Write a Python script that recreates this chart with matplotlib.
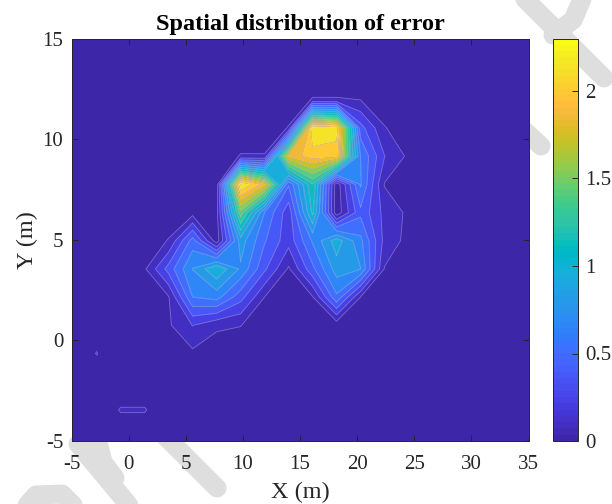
import numpy as np
import matplotlib
matplotlib.use("Agg")
import matplotlib.pyplot as plt
from matplotlib.colors import ListedColormap, Normalize
from matplotlib.cm import ScalarMappable
from matplotlib.lines import Line2D

plt.rcParams['font.family'] = ['Liberation Serif', 'DejaVu Serif']
plt.rcParams['axes.unicode_minus'] = False

x_nodes = [-5.0, -2.8, -0.7, 1.4, 3.5, 5.6, 7.7, 9.8, 11.9, 14.0, 16.1, 18.2, 20.3, 22.4, 24.5, 26.6, 28.7, 30.8, 32.9, 35.0]
y_nodes = [-5.0, -3.45, -2.05, -0.65, 0.75, 2.15, 3.55, 4.95, 6.35, 7.75, 9.15, 10.55, 11.95, 13.35, 15.0]

#            -5  -2.8  -.7  1.4  3.5  5.6  7.7  9.8 11.9  14  16.1 18.2 20.3 22.4 24.5 ...
z_y_m5_00 = [0, 0, 0, 0, 0, 0, 0, 0, 0, 0, 0, 0, 0, 0, 0, 0, 0, 0, 0, 0]
z_y_m3_45 = [0, 0, .11, .11, 0, 0, 0, 0, 0, 0, 0, 0, 0, 0, 0, 0, 0, 0, 0, 0]
z_y_m2_05 = [0, .03, 0, 0, 0, 0, 0, 0, 0, 0, 0, 0, 0, 0, 0, 0, 0, 0, 0, 0]
z_y_m0_65 = [0, .105, 0, 0, 0, .07, 0, 0, 0, 0, 0, 0, 0, 0, 0, 0, 0, 0, 0, 0]
z_y_p0_75 = [0, .03, 0, 0, .08, .25, .13, .105, 0, 0, 0, .01, 0, 0, 0, 0, 0, 0, 0, 0]
z_y_p2_15 = [0, 0, 0, 0, .09, .68, .74, .45, .1, 0, .09, .65, .1, .05, 0, 0, 0, 0, 0, 0]
z_y_p3_55 = [0, 0, 0, .08, .45, .83, 1.1, .8, .42, .08, .5, .9, .83, .09, 0, 0, 0, 0, 0, 0]
z_y_p4_95 = [0, 0, 0, 0, .11, .6, .02, .9, .55, .3, .7, 1.05, .72, .2, .05, 0, 0, 0, 0, 0]
z_y_p6_35 = [0, 0, 0, 0, 0, .04, .05, 1.5, .68, .3, 1.15, 0, .5, .2, .07, 0, 0, 0, 0, 0]
z_y_p7_75 = [0, 0, 0, 0, 0, 0, 0, 2.3, 1.9, .55, 1.25, 0, .7, .09, 0, 0, 0, 0, 0, 0]
z_y_p9_15 = [0, 0, 0, 0, 0, 0, 0, .11, .11, 1.9, 2.05, 2.05, .68, .25, .07, 0, 0, 0, 0, 0]
z_y_p10_55 = [0, 0, 0, 0, 0, 0, 0, 0, 0, .11, 2.28, 2.2, .45, .11, 0, 0, 0, 0, 0, 0]
z_y_p11_95 = [0, 0, 0, 0, 0, 0, 0, 0, 0, 0, .11, .11, .1, 0, 0, 0, 0, 0, 0, 0]
z_y_p13_35 = [0, 0, 0, 0, 0, 0, 0, 0, 0, 0, 0, 0, 0, 0, 0, 0, 0, 0, 0, 0]
z_y_p15_00 = [0, 0, 0, 0, 0, 0, 0, 0, 0, 0, 0, 0, 0, 0, 0, 0, 0, 0, 0, 0]

x_ticks = [-5, 0, 5, 10, 15, 20, 25, 30, 35]
y_ticks = [-5, 0, 5, 10, 15]
cbar_ticks = [0, 0.5, 1, 1.5, 2]
cbar_labels = ['0', '0.5', '1', '1.5', '2']
z_max = 2.3
contour_levels = [0, .1, .245, .39, .535, .68, .825, .97, 1.115, 1.26, 1.405, 1.55, 1.695, 1.84, 1.985, 2.13, 2.275, 2.31]

parula = ListedColormap([
    (.2422,.1504,.6603),(.2504,.1650,.7076),(.2578,.1818,.7511),(.2647,.1978,.7952),
    (.2706,.2147,.8364),(.2751,.2342,.8710),(.2783,.2559,.8991),(.2803,.2782,.9221),
    (.2813,.3006,.9414),(.2810,.3228,.9579),(.2795,.3447,.9717),(.2760,.3667,.9829),
    (.2699,.3892,.9906),(.2602,.4123,.9952),(.2440,.4358,.9988),(.2206,.4603,.9973),
    (.1963,.4847,.9892),(.1834,.5074,.9798),(.1786,.5289,.9682),(.1764,.5499,.9520),
    (.1687,.5703,.9359),(.1540,.5902,.9218),(.1460,.6091,.9079),(.1380,.6276,.8973),
    (.1248,.6459,.8883),(.1113,.6635,.8763),(.0952,.6798,.8598),(.0689,.6948,.8394),
    (.0297,.7082,.8163),(.0036,.7203,.7917),(.0067,.7312,.7660),(.0433,.7411,.7394),
    (.0964,.7500,.7120),(.1408,.7584,.6842),(.1717,.7670,.6554),(.1938,.7758,.6251),
    (.2161,.7843,.5923),(.2470,.7918,.5567),(.2906,.7973,.5188),(.3406,.8008,.4789),
    (.3909,.8029,.4354),(.4456,.8024,.3909),(.5044,.7993,.3480),(.5616,.7942,.3045),
    (.6174,.7876,.2612),(.6720,.7793,.2227),(.7242,.7698,.1910),(.7738,.7598,.1646),
    (.8203,.7498,.1535),(.8634,.7406,.1596),(.9035,.7330,.1774),(.9393,.7288,.2100),
    (.9728,.7298,.2394),(.9956,.7434,.2371),(.9970,.7659,.2199),(.9952,.7893,.2028),
    (.9892,.8136,.1885),(.9786,.8386,.1766),(.9676,.8639,.1643),(.9610,.8890,.1537),
    (.9597,.9135,.1423),(.9628,.9373,.1265),(.9691,.9606,.1064),(.9769,.9839,.0805)])

Z = np.array([z_y_m5_00, z_y_m3_45, z_y_m2_05, z_y_m0_65, z_y_p0_75, z_y_p2_15, z_y_p3_55,
              z_y_p4_95, z_y_p6_35, z_y_p7_75, z_y_p9_15, z_y_p10_55, z_y_p11_95, z_y_p13_35, z_y_p15_00], float)

W, H = 612, 504
fig = plt.figure(figsize=(W / 100, H / 100), dpi=100)

def rect(l, t, r, b):
    return [l / W, 1 - b / H, (r - l) / W, (b - t) / H]

# grey background strokes behind the figure
wm = '#dedede'
strokes = [([518, 604], [-8, 78]), ([585, 573, 553], [-8, 20, 35]),
           ([515, 541], [122, 146]), ([78, 137], [444, 515]), ([97, 103, 115], [438, 462, 478]),
           ([165, 217], [436, 488]), ([14, 36, 62, 90], [520, 495, 494, 522])]
for xs, ys in strokes:
    fig.add_artist(Line2D(np.array(xs) / W, 1 - np.array(ys) / H, transform=fig.transFigure, color=wm,
                          lw=19 * 0.72, solid_capstyle='round', solid_joinstyle='round', zorder=-5))

norm = Normalize(0, z_max)
levels = np.array(contour_levels)
fill_colors = [parula(norm(v)) for v in levels[:-1]]

ax = fig.add_axes(rect(71.5, 38.5, 528.5, 441))
ax.set_facecolor(parula(0.0))
ax.contourf(x_nodes, y_nodes, Z, levels=levels, colors=fill_colors, antialiased=True)
ax.contour(x_nodes, y_nodes, Z, levels=levels[1:-1], colors='white', alpha=0.3, linewidths=0.6)

ax.set_xlim(-5, 35)
ax.set_ylim(-5, 15)
ax.set_xticks(x_ticks)
ax.set_yticks(y_ticks)
ax.tick_params(direction='in', length=4.3, width=0.7, color='#262626', labelcolor='#262626',
               labelsize=15, top=True, right=True)
ax.tick_params(axis='x', pad=10)
ax.tick_params(axis='y', pad=6)
for s in ax.spines.values():
    s.set_linewidth(0.7)
    s.set_color('#262626')
ax.set_xlabel('X (m)', fontsize=17.5, color='#262626', labelpad=6)
ax.set_ylabel('Y (m)', fontsize=17.5, color='#262626', labelpad=3)
ax.set_title('Spatial distribution of error', fontsize=17.5, fontweight='bold', color='black', pad=6)

cax = fig.add_axes(rect(552.5, 38.5, 578, 441))
cb = fig.colorbar(ScalarMappable(norm=norm, cmap=parula), cax=cax)
cb.set_ticks(cbar_ticks)
cb.set_ticklabels(cbar_labels)
cb.ax.tick_params(direction='in', length=4.3, width=0.7, color='#262626', labelcolor='#262626',
                  labelsize=15, pad=5)
cb.outline.set_linewidth(0.7)
cb.outline.set_edgecolor('#262626')

fig.savefig('out.png', dpi=100)
